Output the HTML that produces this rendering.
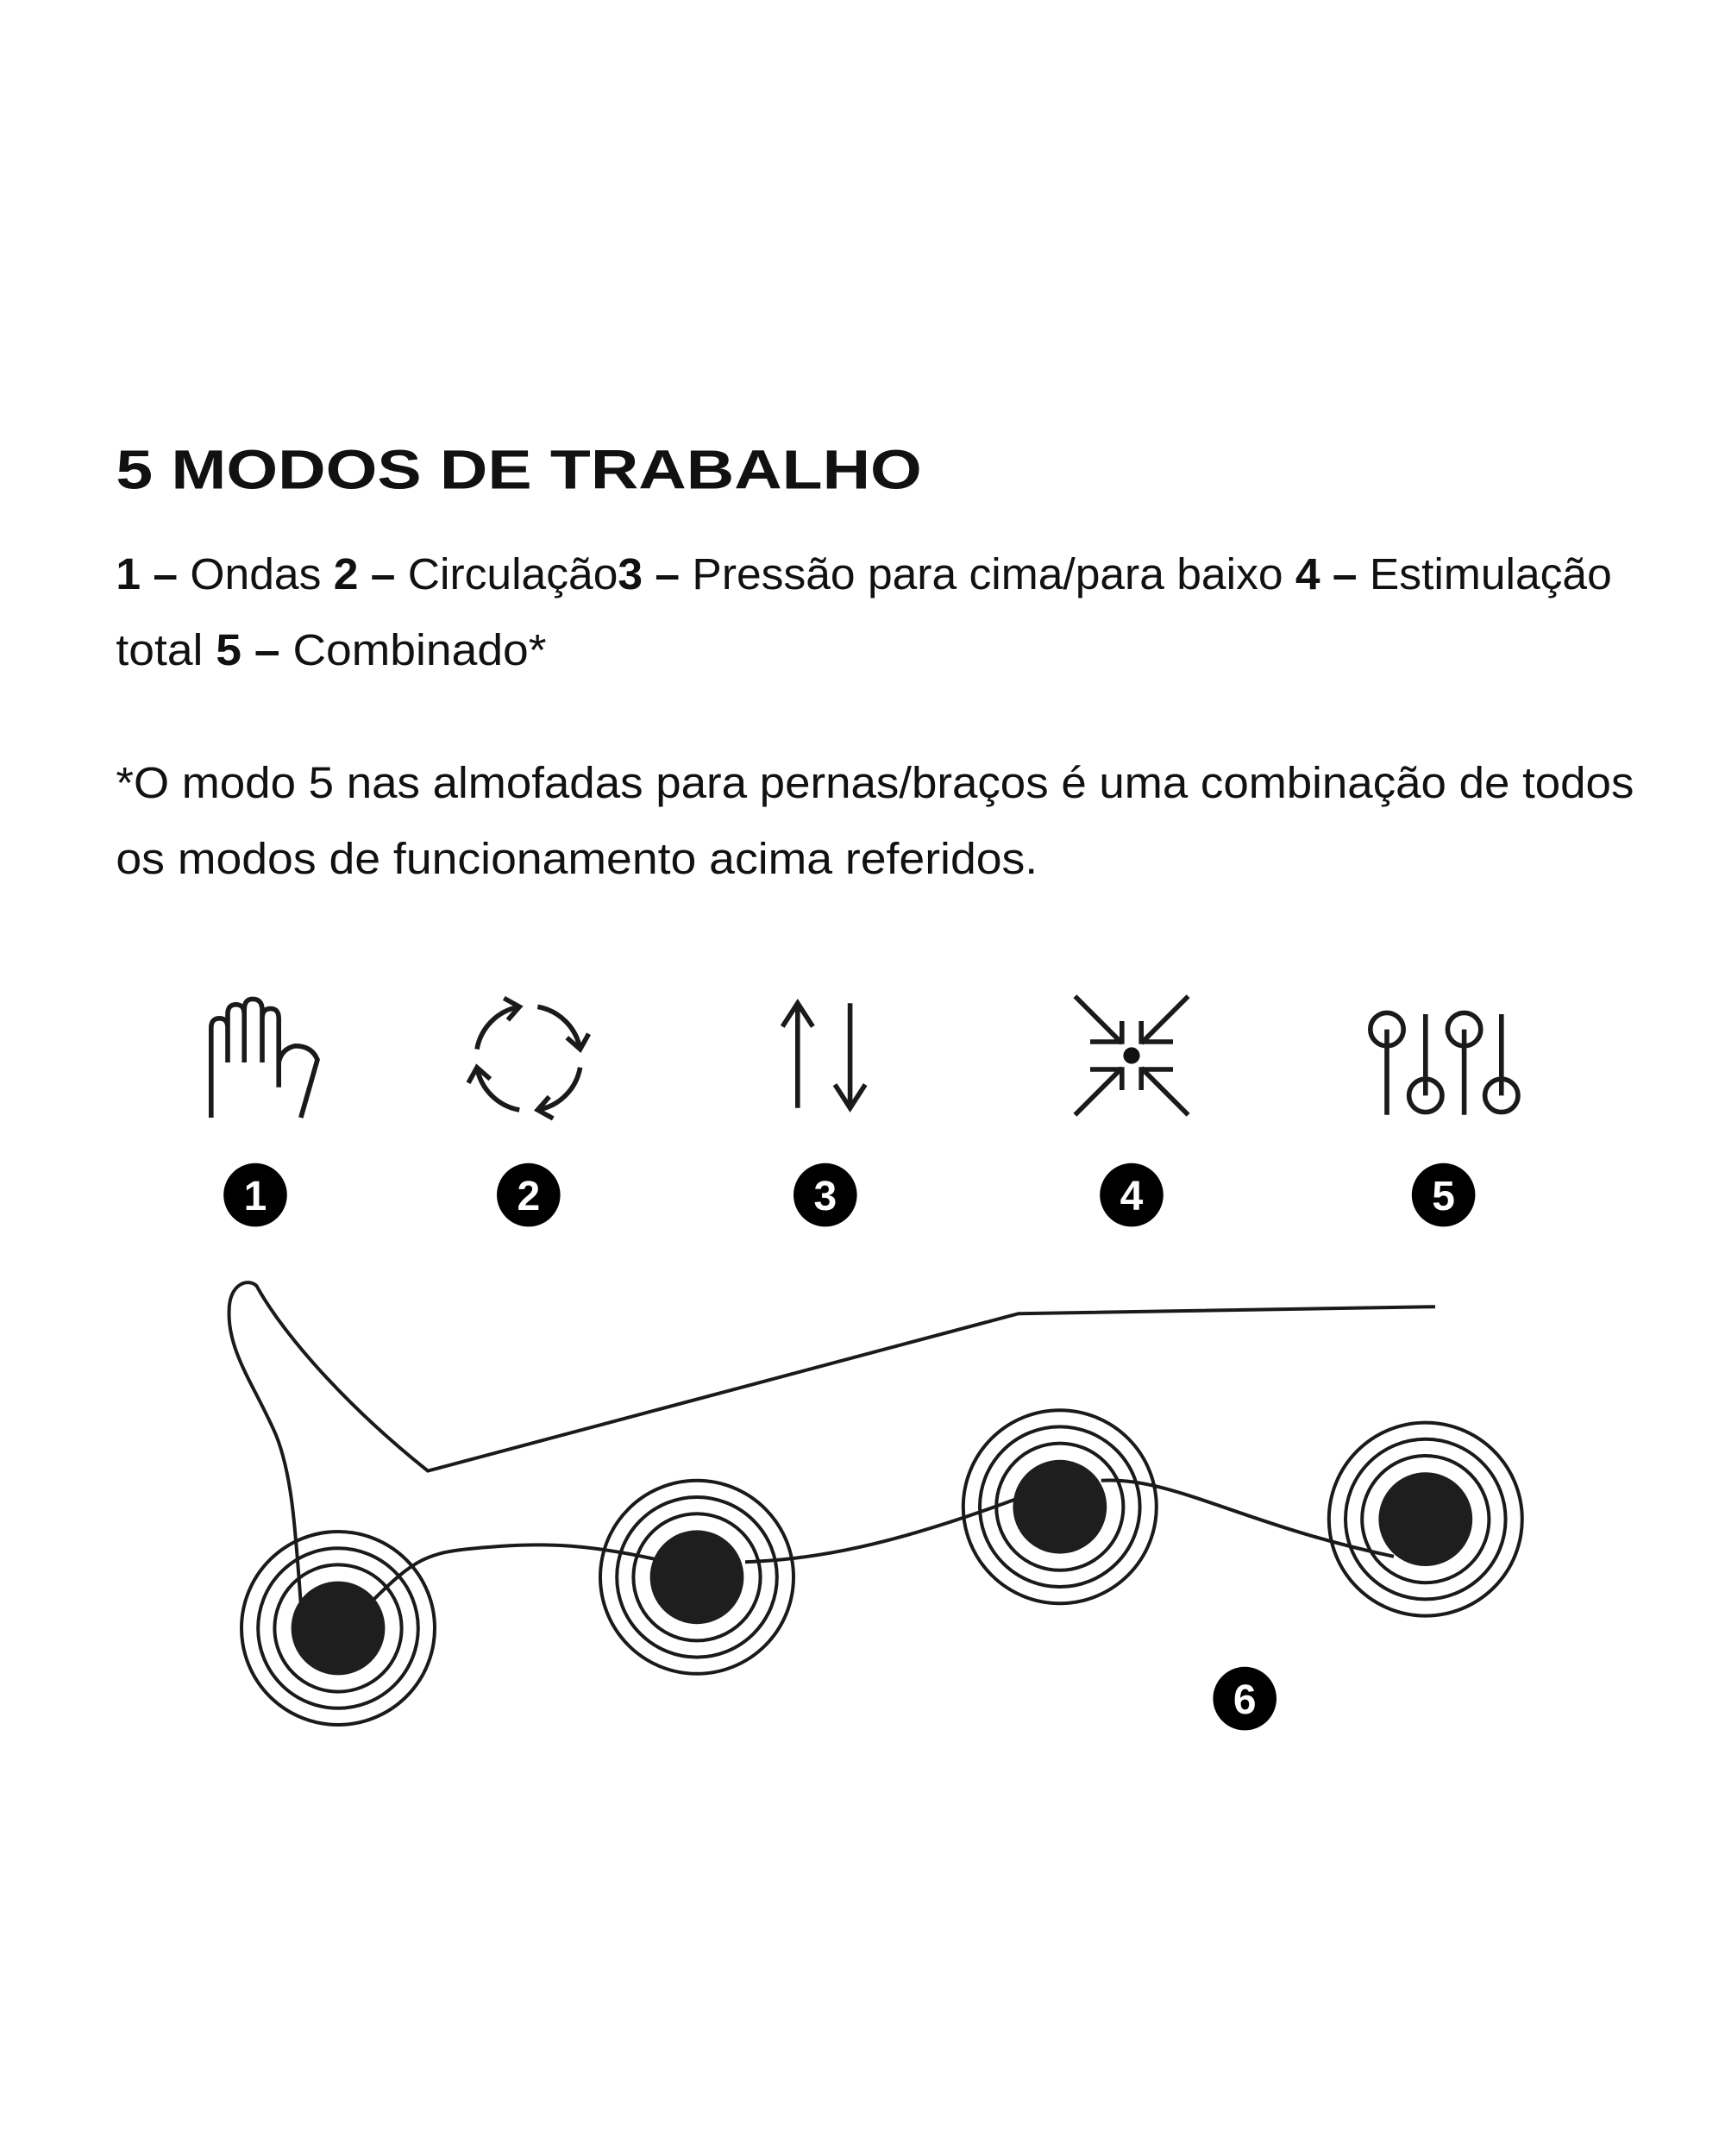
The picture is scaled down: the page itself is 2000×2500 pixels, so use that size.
<!DOCTYPE html>
<html><head><meta charset="utf-8"><style>
html,body{margin:0;padding:0;background:#fff;}
svg{display:block}
</style></head><body>
<svg width="2000" height="2500" viewBox="0 0 1250 1562.5" xmlns="http://www.w3.org/2000/svg" font-family="Liberation Sans, sans-serif">
<rect width="1250" height="1562.5" fill="#fff"/>
<text x="84" y="354" font-size="40" font-weight="bold" fill="#111" textLength="584" lengthAdjust="spacingAndGlyphs">5 MODOS DE TRABALHO</text>
<g font-size="32" fill="#111">
<text x="84" y="427" textLength="1084" lengthAdjust="spacingAndGlyphs"><tspan font-weight="bold">1 –</tspan> Ondas <tspan font-weight="bold">2 –</tspan> Circulação<tspan font-weight="bold">3 –</tspan> Pressão para cima/para baixo <tspan font-weight="bold">4 –</tspan> Estimulação</text>
<text x="84" y="482" textLength="312" lengthAdjust="spacingAndGlyphs">total <tspan font-weight="bold">5 –</tspan> Combinado*</text>
<text x="84" y="578" textLength="1100" lengthAdjust="spacingAndGlyphs">*O modo 5 nas almofadas para pernas/braços é uma combinação de todos</text>
<text x="84" y="633" textLength="668" lengthAdjust="spacingAndGlyphs">os modos de funcionamento acima referidos.</text>
</g>
<g fill="none" stroke="#1a1a1a" stroke-width="3.5">
<!-- hand -->
<path d="M153,810 V745 Q153,738 159,738 Q165,738 165,745 V770 M165,770 V735 Q165,728 171,728 Q177,728 177,735 V770 M177,770 V732 Q177,724 183,724 Q190,724 190,732 V770 M190,770 V738 Q190,731 196,731 Q202,731 202,738 V788 M202,788 V770 Q204,760 214,758 Q226,758 230,768 L218,810"/>
<!-- recycle -->
<path d="M345.6,760.4 A38,38 0 0 1 376.4,729.6 M365.2,723.4 L376.4,729.6 L368,739.2"/>
<path d="M389.6,729.6 A38,38 0 0 1 420.4,760.4 M426.6,749.2 L420.4,760.4 L410.8,752"/>
<path d="M420.4,773.6 A38,38 0 0 1 389.6,804.4 M400.8,810.6 L389.6,804.4 L398,794.8"/>
<path d="M376.4,804.4 A38,38 0 0 1 345.6,773.6 M339.4,784.8 L345.6,773.6 L355.2,782"/>
<path d="M578,803 V728 M567,744 L578,727 L589,744 M616,727 V803 M605,786 L616,803 L627,786"/>
<!-- 4 -->
<path d="M779,722 L813,756 M790,755 H813 V740 M861,722 L827,756 M850,755 H827 V740 M779,808 L813,774 M790,775 H813 V790 M861,808 L827,774 M850,775 H827 V790"/>
<!-- 5 -->
<circle cx="1005" cy="746" r="12"/><circle cx="1061" cy="746" r="12"/>
<circle cx="1033" cy="794" r="12"/><circle cx="1088" cy="794" r="12"/>
<path d="M1005,746 V808 M1033,735 V794 M1061,746 V808 M1088,735 V794"/>
</g>
<circle cx="820" cy="765" r="6" fill="#111"/>
<g font-size="30" font-weight="bold" fill="#fff" text-anchor="middle">
<circle cx="185" cy="866" r="23" fill="#000"/><text x="185" y="877">1</text>
<circle cx="383" cy="866" r="23" fill="#000"/><text x="383" y="877">2</text>
<circle cx="598" cy="866" r="23" fill="#000"/><text x="598" y="877">3</text>
<circle cx="820" cy="866" r="23" fill="#000"/><text x="820" y="877">4</text>
<circle cx="1046" cy="866" r="23" fill="#000"/><text x="1046" y="877">5</text>
<circle cx="902" cy="1231" r="23" fill="#000"/><text x="902" y="1242">6</text>
</g>
<!-- leg -->
<g fill="none" stroke="#1a1a1a" stroke-width="2.5">
<path d="M218,1162 C214,1110 212,1070 200,1040 C185,1005 165,980 166,950 C166,930 180,926 186,932 C200,958 240,1010 310,1066 L738,952 L1040,947"/>
<path d="M270,1160 C300,1130 310,1125 345,1122 C390,1118 420,1118 475,1130 M540,1132 C600,1130 660,1115 740,1085 M798,1073 C850,1070 900,1105 1010,1128"/>
</g>
<g fill="none" stroke="#1a1a1a" stroke-width="2.5">
<circle cx="245" cy="1180" r="70"/><circle cx="245" cy="1180" r="58"/><circle cx="245" cy="1180" r="46"/>
<circle cx="505" cy="1143" r="70"/><circle cx="505" cy="1143" r="58"/><circle cx="505" cy="1143" r="46"/>
<circle cx="768" cy="1092" r="70"/><circle cx="768" cy="1092" r="58"/><circle cx="768" cy="1092" r="46"/>
<circle cx="1033" cy="1101" r="70"/><circle cx="1033" cy="1101" r="58"/><circle cx="1033" cy="1101" r="46"/>
</g>
<g fill="#1e1e1e">
<circle cx="245" cy="1180" r="34"/><circle cx="505" cy="1143" r="34"/><circle cx="768" cy="1092" r="34"/><circle cx="1033" cy="1101" r="34"/>
</g>
</svg>
</body></html>
